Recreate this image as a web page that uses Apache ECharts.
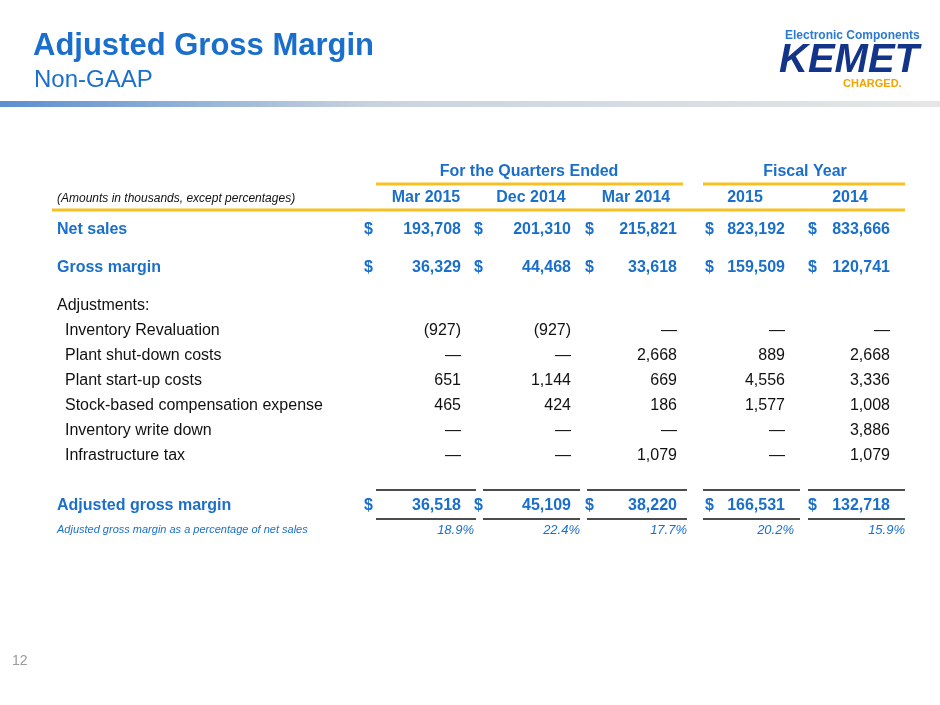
<!DOCTYPE html>
<html><head><meta charset="utf-8">
<script src="https://cdn.jsdelivr.net/npm/echarts@6/dist/echarts.min.js"></script>
<style>html,body{margin:0;padding:0;background:#fff}#c{width:940px;height:705px}</style>
</head><body><div id="c"></div>
<script>
const columns = ['Mar 2015','Dec 2014','Mar 2014','2015','2014'];
const groups = ['For the Quarters Ended','Fiscal Year'];
const netSales = ['193,708','201,310','215,821','823,192','833,666'];
const grossMargin = ['36,329','44,468','33,618','159,509','120,741'];
const adjLabels = ['Inventory Revaluation','Plant shut-down costs','Plant start-up costs','Stock-based compensation expense','Inventory write down','Infrastructure tax'];
const adjValues = [
  ['(927)','(927)','—','—','—'],
  ['—','—','2,668','889','2,668'],
  ['651','1,144','669','4,556','3,336'],
  ['465','424','186','1,577','1,008'],
  ['—','—','—','—','3,886'],
  ['—','—','1,079','—','1,079']
];
const adjGross = ['36,518','45,109','38,220','166,531','132,718'];
const adjPct = ['18.9%','22.4%','17.7%','20.2%','15.9%'];

const BLUE='#1a6fcc', DARK='#111', GOLD='#f5c021', F='Liberation Sans, Arial, sans-serif';
const colRight=[461,571,677,785,890];
const colCenter=[426,531,636,745,850];
const dollarX=[364,474,585,705,808];
const lineSeg=[[376,476],[483,580],[587,687],[703,800],[808,905]];
const pctRight=[474,580,687,794,905];
const g=[];
function t(x,y,s,o){g.push({type:'text',x:x,y:y,style:Object.assign({text:s,font:'16px '+F,fill:DARK,textVerticalAlign:'middle'},o||{})});}
function ln(x1,y1,x2,y2,c,w){g.push({type:'line',shape:{x1,y1,x2,y2},style:{stroke:c,lineWidth:w}});}
t(33,46,'Adjusted Gross Margin',{font:'bold 31px '+F,fill:BLUE});
t(34,80,'Non-GAAP',{font:'24px '+F,fill:BLUE});
g.push({type:'rect',shape:{x:0,y:101,width:940,height:6},style:{fill:new echarts.graphic.LinearGradient(0,0,1,0,[{offset:0,color:'#5b8fd0'},{offset:0.4,color:'#c9d3df'},{offset:1,color:'#e6e6e6'}])}});
t(785,36,'Electronic Components',{font:'bold 12px '+F,fill:'#2a7bd0'});
t(779,61,'KEMET',{font:'italic 900 40px '+F,fill:'#12358a'});
t(843,84,'CHARGED.',{font:'bold 11px '+F,fill:'#f0a500'});
t(529,172,groups[0],{font:'bold 16px '+F,fill:BLUE,textAlign:'center'});
t(805,172,groups[1],{font:'bold 16px '+F,fill:BLUE,textAlign:'center'});
ln(376,184,683,184,GOLD,3); ln(703,184,905,184,GOLD,3);
t(57,199,'(Amounts in thousands, except percentages)',{font:'italic 12px '+F});
columns.forEach((c,i)=>t(colCenter[i],198,c,{font:'bold 16px '+F,fill:BLUE,textAlign:'center'}));
ln(52,210,905,210,GOLD,3);
function dollarRow(y,label,vals){
  t(57,y,label,{font:'bold 16px '+F,fill:BLUE});
  vals.forEach((v,i)=>{t(dollarX[i],y,'$',{font:'bold 16px '+F,fill:BLUE});t(colRight[i],y,v,{font:'bold 16px '+F,fill:BLUE,textAlign:'right'});});
}
dollarRow(230,'Net sales',netSales);
dollarRow(268,'Gross margin',grossMargin);
t(57,306,'Adjustments:');
adjLabels.forEach((l,r)=>{const y=331+r*25;t(65,y,l);adjValues[r].forEach((v,i)=>t(colRight[i],y,v,{textAlign:'right'}));});
lineSeg.forEach(s=>{ln(s[0],490,s[1],490,DARK,1.5);ln(s[0],519,s[1],519,DARK,1.5);});
dollarRow(506,'Adjusted gross margin',adjGross);
t(57,530,'Adjusted gross margin as a percentage of net sales',{font:'italic 11px '+F,fill:BLUE});
adjPct.forEach((v,i)=>t(pctRight[i],530,v,{font:'italic 13px '+F,fill:BLUE,textAlign:'right'}));
t(12,661,'12',{font:'14px '+F,fill:'#999'});
const ch=echarts.init(document.getElementById('c'));
ch.setOption({animation:false,graphic:g});
</script></body></html>
